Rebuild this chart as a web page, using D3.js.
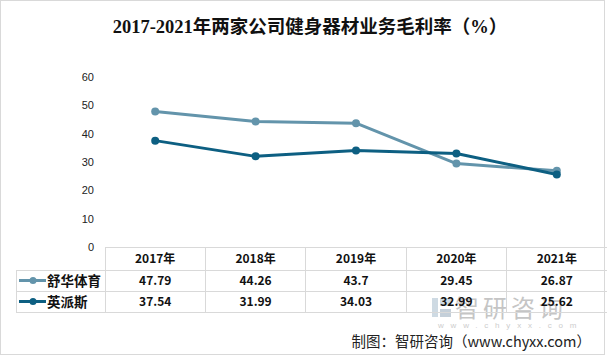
<!DOCTYPE html>
<html><head><meta charset="utf-8">
<script src="https://cdn.jsdelivr.net/npm/d3@7"></script>
<style>body{margin:0;background:#fff}svg{display:block}</style>
</head><body>
<svg id="c" width="608" height="356"></svg>
<script>
const years = ["2017年","2018年","2019年","2020年","2021年"];
const seriesNames = ["舒华体育","英派斯"];
const shuhua = [47.79, 44.26, 43.7, 29.45, 26.87];
const yingpaisi = [37.54, 31.99, 34.03, 32.99, 25.62];
const yTicks = [0,10,20,30,40,50,60];
const colors = ["#6394ab","#0d5f82"];
const seriesValues = [shuhua, yingpaisi];

const svg = d3.select("#c");
const W = 608, H = 356;
svg.append("rect").attr("x",0.5).attr("y",0.5).attr("width",W-4).attr("height",H-2)
  .attr("fill","#fff").attr("stroke","#d9d9d9");

svg.append("text").attr("x",310).attr("y",33).attr("text-anchor","middle")
  .attr("font-family","'Liberation Serif','Noto Sans CJK SC'").attr("font-size",18.5)
  .attr("font-weight","bold").attr("fill","#111")
  .text("2017-2021年两家公司健身器材业务毛利率（%）");

const x = d3.scaleBand().domain(years).range([105, 607]);
const y = d3.scaleLinear().domain([0,60]).range([247, 77]);

// y axis labels
const yAxis = d3.axisLeft(y).tickValues(yTicks).tickSize(0).tickPadding(0);
const ya = svg.append("g").attr("transform","translate(94,0)").call(yAxis);
ya.select(".domain").remove();
ya.selectAll("text").attr("font-family","'Liberation Sans',Arial,sans-serif")
  .attr("font-size",11).attr("fill","#222");

// lines
const line = d3.line().x((d,i)=>x(years[i])+x.bandwidth()/2).y(d=>y(d));
seriesValues.forEach((vals,si)=>{
  svg.append("path").datum(vals).attr("d",line).attr("fill","none")
    .attr("stroke",colors[si]).attr("stroke-width",3).attr("stroke-linejoin","round");
  svg.selectAll(null).data(vals).enter().append("circle")
    .attr("cx",(d,i)=>x(years[i])+x.bandwidth()/2).attr("cy",d=>y(d)).attr("r",4)
    .attr("fill",colors[si]);
});

// watermark
const wm = svg.append("g").attr("opacity",0.5);
wm.append("rect").attr("x",432).attr("y",298).attr("width",6).attr("height",19).attr("fill","#9fb6c9");
wm.append("rect").attr("x",440).attr("y",298).attr("width",11).attr("height",8).attr("fill","#9fb6c9");
wm.append("rect").attr("x",440).attr("y",309).attr("width",11).attr("height",8).attr("fill","#8aa0b4");
wm.append("text").attr("x",455).attr("y",317).attr("font-family","'Noto Sans CJK SC'")
  .attr("font-size",24).attr("fill","#8c8c8c").attr("letter-spacing",4).text("智研咨询");
wm.append("text").attr("x",438).attr("y",328).attr("font-family","'Liberation Sans',sans-serif")
  .attr("font-size",8).attr("fill","#9a9a9a").attr("letter-spacing",6.8).text("www.chyxx.com");

// table
const rowTop = [247, 270, 291, 312];
const grid = "#d9d9d9";
const tg = svg.append("g").attr("stroke",grid).attr("stroke-width",1).attr("shape-rendering","crispEdges");
tg.append("line").attr("x1",105).attr("x2",607).attr("y1",rowTop[0]).attr("y2",rowTop[0]);
[1,2,3].forEach(r=>tg.append("line").attr("x1",16).attr("x2",607).attr("y1",rowTop[r]).attr("y2",rowTop[r]));
tg.append("line").attr("x1",16).attr("x2",16).attr("y1",rowTop[1]).attr("y2",rowTop[3]);
years.forEach(yr=>tg.append("line").attr("x1",x(yr)).attr("x2",x(yr)).attr("y1",rowTop[0]).attr("y2",rowTop[3]));

const font = "'Noto Sans CJK SC','Liberation Sans',sans-serif";
svg.selectAll(null).data(years).enter().append("text")
  .attr("x",d=>x(d)+x.bandwidth()/2).attr("y",263).attr("text-anchor","middle")
  .attr("font-family",font).attr("font-size",12).attr("font-weight","bold").attr("fill","#111").text(d=>d);

seriesValues.forEach((vals,si)=>{
  const cy = (rowTop[si+1]+rowTop[si+2])/2;
  svg.append("line").attr("x1",19).attr("x2",46).attr("y1",cy).attr("y2",cy)
    .attr("stroke",colors[si]).attr("stroke-width",3);
  svg.append("circle").attr("cx",33).attr("cy",cy).attr("r",3.5).attr("fill",colors[si]);
  svg.append("text").attr("x",47).attr("y",cy+5).attr("font-family",font)
    .attr("font-size",13.5).attr("font-weight","bold").attr("fill","#111").text(seriesNames[si]);
  svg.selectAll(null).data(vals).enter().append("text")
    .attr("x",(d,i)=>x(years[i])+x.bandwidth()/2).attr("y",cy+4.5).attr("text-anchor","middle")
    .attr("font-family",font).attr("font-size",12).attr("font-weight","bold").attr("fill","#111")
    .text(d=>d);
});

svg.append("text").attr("x",591).attr("y",347).attr("text-anchor","end")
  .attr("font-family","'Noto Sans CJK SC',sans-serif").attr("font-size",14.5).attr("fill","#222")
  .text("制图：智研咨询（www.chyxx.com）");
</script>
</body></html>
